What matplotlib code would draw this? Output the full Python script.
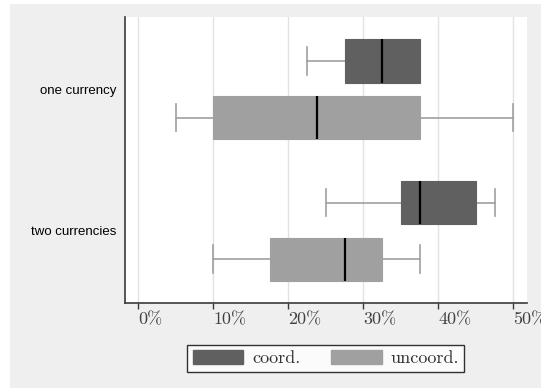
import matplotlib
matplotlib.use("Agg")
import matplotlib.pyplot as plt
from matplotlib.patches import Patch, Rectangle
from matplotlib.transforms import ScaledTranslation

# Data
categories = ["one currency", "two currencies"]
series = ["coord.", "uncoord."]
tick_values = [0, 10, 20, 30, 40, 50]
tick_labels = ["0%", "10%", "20%", "30%", "40%", "50%"]

# five-number summaries per category (percent)
coord_whislo = [22.5, 25.0]
coord_q1 = [27.5, 35.0]
coord_med = [32.5, 37.5]
coord_q3 = [37.5, 45.0]
coord_whishi = [37.5, 47.5]

uncoord_whislo = [5.0, 10.0]
uncoord_q1 = [10.0, 17.5]
uncoord_med = [23.75, 27.5]
uncoord_q3 = [37.5, 32.5]
uncoord_whishi = [50.0, 37.5]

colors = {"coord.": "#606060", "uncoord.": "#a0a0a0"}
offsets = {"coord.": -0.2, "uncoord.": 0.2}

W, H = 541, 388
fig = plt.figure(figsize=(W / 100, H / 100), dpi=100)
fig.patch.set_facecolor("white")
fig.add_artist(Rectangle((10 / W, 0), 1, (H - 3.5) / H, transform=fig.transFigure,
                         facecolor="#efefef", edgecolor="none", zorder=-10))

ax = fig.add_axes([124.9 / W, (H - 302.5) / H, 402 / W, 285.8 / H])
ax.set_facecolor("white")


def make_stats(lo, q1, med, q3, hi):
    return [dict(whislo=a, q1=b, med=c, q3=d, whishi=e, fliers=[])
            for a, b, c, d, e in zip(lo, q1, med, q3, hi)]


summaries = {
    "coord.": make_stats(coord_whislo, coord_q1, coord_med, coord_q3, coord_whishi),
    "uncoord.": make_stats(uncoord_whislo, uncoord_q1, uncoord_med, uncoord_q3, uncoord_whishi),
}

for name in series:
    pos = [i + offsets[name] for i in range(len(categories))]
    ax.bxp(summaries[name], positions=pos, widths=0.305, capwidths=0.195,
           orientation="horizontal", patch_artist=True, showfliers=False,
           boxprops=dict(facecolor=colors[name], edgecolor=colors[name], linewidth=0.8, zorder=3),
           whiskerprops=dict(color="#a0a0a0", linewidth=1.2, zorder=2.5),
           capprops=dict(color="#a0a0a0", linewidth=1.2, zorder=2.5),
           medianprops=dict(color="black", linewidth=1.6, zorder=4))

ax.set_xlim(-1.8, 51.8)
ax.set_ylim(1.505, -0.512)

ax.set_xticks(tick_values)
ax.set_xticklabels(tick_labels, fontfamily="cmr10", fontsize=13, ha="left", color="#404040")
shift = ScaledTranslation(-2.5 / 100, 0, fig.dpi_scale_trans)
for lab in ax.get_xticklabels():
    lab.set_transform(lab.get_transform() + shift)

ax.set_yticks(range(len(categories)))
ax.set_yticklabels(categories, fontfamily="Liberation Sans", fontsize=9.5, color="black")

ax.tick_params(axis="x", direction="out", length=4, width=1, color="#3a3a3a", pad=3)
ax.tick_params(axis="y", length=0, pad=6)

ax.grid(axis="x", color="#e2e2e2", linewidth=1)
ax.set_axisbelow(True)

for side in ("top", "right"):
    ax.spines[side].set_visible(False)
for side in ("left", "bottom"):
    ax.spines[side].set_color("#3a3a3a")
    ax.spines[side].set_linewidth(1.2)

handles = [Patch(facecolor=colors[n], edgecolor=colors[n]) for n in series]
leg = fig.legend(handles, series, loc="center", bbox_to_anchor=(325.9 / W, 1 - 358.4 / H),
                 ncol=2, frameon=True, fancybox=False, edgecolor="black",
                 prop=dict(family="cmr10", size=13), handlelength=2.8, handleheight=0.78,
                 handletextpad=0.48, columnspacing=1.72, borderpad=0.3, borderaxespad=0)
leg.get_frame().set_linewidth(1.0)
leg.get_frame().set_facecolor("white")
for t in leg.get_texts():
    t.set_color("#303030")

fig.savefig("out.png", dpi=100, facecolor=fig.get_facecolor())
